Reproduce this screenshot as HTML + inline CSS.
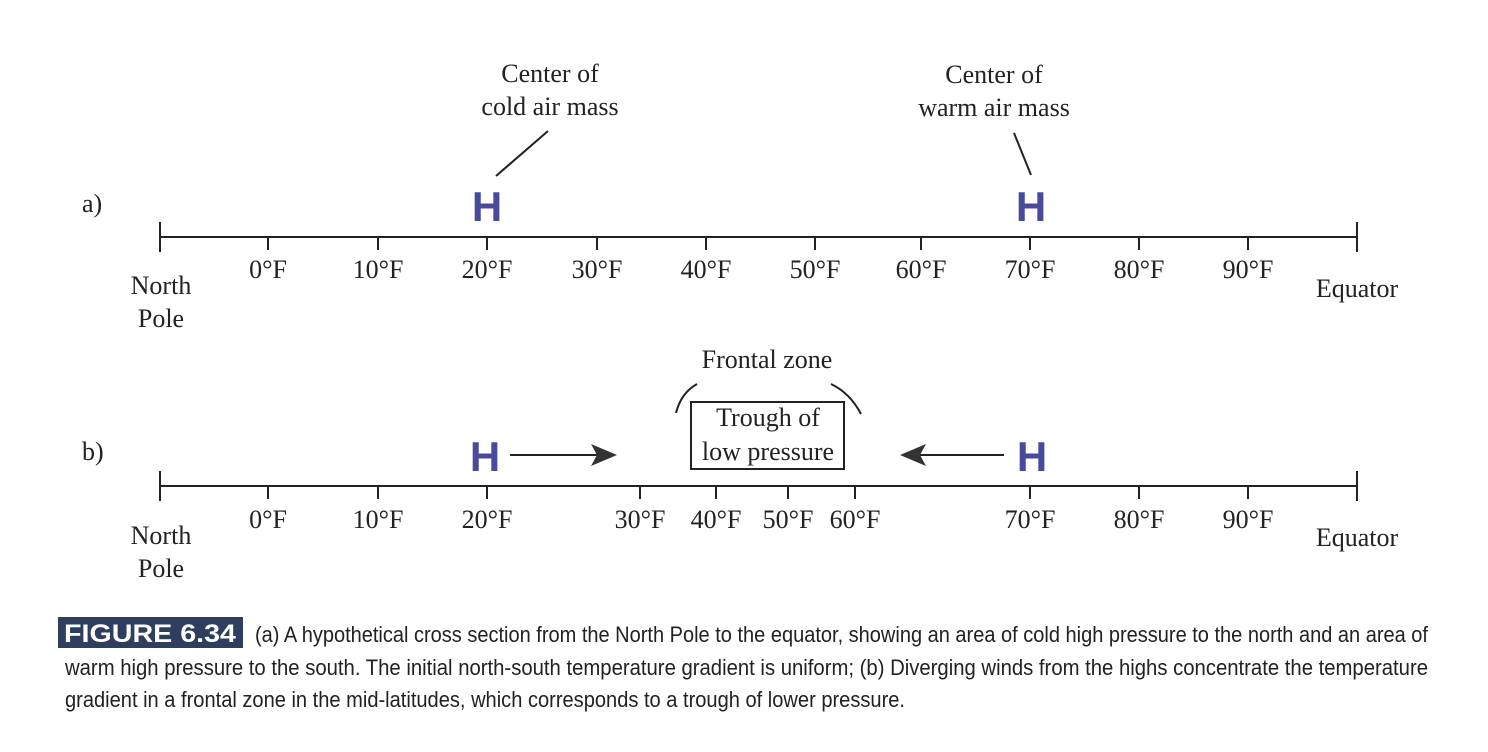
<!DOCTYPE html>
<html><head><style>body{margin:0;background:#fff}svg{display:block}</style></head><body>
<svg width="1488" height="752" xmlns="http://www.w3.org/2000/svg">
<g font-family="Liberation Serif, serif" font-size="26" fill="#222">
<!-- a -->
<text x="82" y="212">a)</text>
<text x="550" y="82" text-anchor="middle">Center of</text>
<text x="550" y="115" text-anchor="middle">cold air mass</text>
<text x="994" y="83" text-anchor="middle">Center of</text>
<text x="994" y="116" text-anchor="middle">warm air mass</text>
<text x="161" y="294" text-anchor="middle">North</text>
<text x="161" y="327" text-anchor="middle">Pole</text>
<text x="1357" y="297" text-anchor="middle">Equator</text>
<g text-anchor="middle">
<text x="268" y="278">0°F</text><text x="378" y="278">10°F</text><text x="487" y="278">20°F</text>
<text x="597" y="278">30°F</text><text x="706" y="278">40°F</text><text x="815" y="278">50°F</text>
<text x="921" y="278">60°F</text><text x="1030" y="278">70°F</text><text x="1139" y="278">80°F</text>
<text x="1248" y="278">90°F</text>
</g>
<!-- b -->
<text x="82" y="460">b)</text>
<text x="767" y="368" text-anchor="middle">Frontal zone</text>
<text x="768" y="426" text-anchor="middle">Trough of</text>
<text x="768" y="460" text-anchor="middle">low pressure</text>
<text x="161" y="544" text-anchor="middle">North</text>
<text x="161" y="577" text-anchor="middle">Pole</text>
<text x="1357" y="546" text-anchor="middle">Equator</text>
<g text-anchor="middle">
<text x="268" y="528">0°F</text><text x="378" y="528">10°F</text><text x="487" y="528">20°F</text>
<text x="640" y="528">30°F</text><text x="716" y="528">40°F</text><text x="788" y="528">50°F</text>
<text x="855" y="528">60°F</text><text x="1030" y="528">70°F</text><text x="1139" y="528">80°F</text>
<text x="1248" y="528">90°F</text>
</g>
</g>
<g stroke="#222" stroke-width="2" fill="none">
<line x1="160" y1="237" x2="1357" y2="237"/>
<line x1="160" y1="222" x2="160" y2="252"/><line x1="1357" y1="222" x2="1357" y2="252"/>
<path d="M268 237v13M378 237v13M487 237v13M597 237v13M706 237v13M815 237v13M921 237v13M1030 237v13M1139 237v13M1248 237v13"/>
<line x1="496" y1="176" x2="548" y2="131"/>
<line x1="1014" y1="133" x2="1031" y2="175"/>
<line x1="160" y1="486" x2="1357" y2="486"/>
<line x1="160" y1="471" x2="160" y2="501"/><line x1="1357" y1="471" x2="1357" y2="501"/>
<path d="M268 486v13M378 486v13M487 486v13M640 486v13M716 486v13M788 486v13M855 486v13M1030 486v13M1139 486v13M1248 486v13"/>
<rect x="691" y="402" width="153" height="67"/>
<path d="M676 413 Q681 393 697 384"/>
<path d="M831 384 Q850 393 861 414"/>
<line x1="510" y1="455" x2="600" y2="455"/>
<line x1="920" y1="455" x2="1004" y2="455"/>
</g>
<path d="M617 455 L591 444 L597 455 L591 466 Z" fill="#333"/>
<path d="M900 455 L926 444 L920 455 L926 466 Z" fill="#333"/>
<g font-family="Liberation Sans, sans-serif" font-weight="bold" font-size="42" fill="#4a4a9c" text-anchor="middle">
<text x="487" y="221">H</text><text x="1031" y="221">H</text>
<text x="485" y="471">H</text><text x="1032" y="471">H</text>
</g>
<rect x="58" y="617" width="185" height="31" fill="#2f3e5e"/>
<g font-family="Liberation Sans Narrow, Liberation Sans, sans-serif" font-size="22" fill="#222">
<text x="64" y="642" font-weight="bold" font-size="25" fill="#fff" textLength="172" lengthAdjust="spacingAndGlyphs">FIGURE 6.34</text>
<text x="255" y="642" textLength="1173" lengthAdjust="spacingAndGlyphs">(a) A hypothetical cross section from the North Pole to the equator, showing an area of cold high pressure to the north and an area of</text>
<text x="65" y="675" textLength="1363" lengthAdjust="spacingAndGlyphs">warm high pressure to the south. The initial north-south temperature gradient is uniform; (b) Diverging winds from the highs concentrate the temperature</text>
<text x="65" y="707" textLength="840" lengthAdjust="spacingAndGlyphs">gradient in a frontal zone in the mid-latitudes, which corresponds to a trough of lower pressure.</text>
</g>
</svg>
</body></html>
